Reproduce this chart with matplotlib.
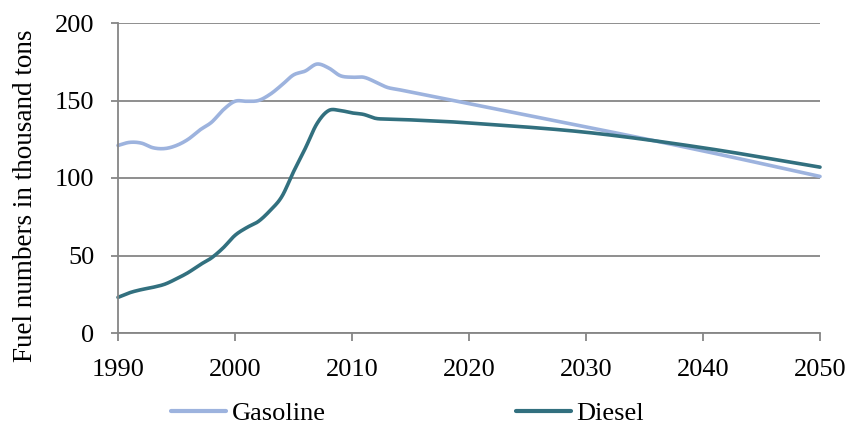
import numpy as np
import matplotlib
matplotlib.use("Agg")
import matplotlib.pyplot as plt

years_gas = [1990, 1991, 1992, 1993, 1994, 1995, 1996, 1997, 1998, 1999, 2000, 2001, 2002, 2003, 2004,
             2005, 2006, 2007, 2008, 2009, 2010, 2011, 2012, 2013, 2014, 2015, 2020, 2030, 2040, 2050]
gasoline = [121, 123, 122.5, 119.5, 119, 121, 125, 131, 136, 144, 149.5, 149.5, 150, 154, 160,
            166.5, 169, 173.5, 171, 166, 165, 165, 162, 158.5, 157, 155.5, 148, 133, 117.5, 101]
years_dsl = [1990, 1991, 1992, 1993, 1994, 1995, 1996, 1997, 1998, 1999, 2000, 2001, 2002, 2003, 2004,
             2005, 2006, 2007, 2008, 2009, 2010, 2011, 2012, 2013, 2015, 2020, 2030, 2040, 2050]
diesel = [23, 26, 28, 29.5, 31.5, 35, 39, 44, 48.5, 55, 63, 68, 72, 79, 88,
          104, 119, 135, 143.5, 143.5, 142, 141, 138.5, 138, 137.5, 135.5, 129.5, 119.5, 107]
series_names = ["Gasoline", "Diesel"]
x_ticks = [1990, 2000, 2010, 2020, 2030, 2040, 2050]
y_ticks = [0, 50, 100, 150, 200]


def smooth(x, y, n=20):
    # Catmull-Rom style smoothing (like Excel "smoothed line")
    x = np.asarray(x, float); y = np.asarray(y, float)
    px = np.concatenate([[2 * x[0] - x[1]], x, [2 * x[-1] - x[-2]]])
    py = np.concatenate([[2 * y[0] - y[1]], y, [2 * y[-1] - y[-2]]])
    xs, ys = [], []
    t = np.linspace(0, 1, n, endpoint=False)
    for i in range(1, len(px) - 2):
        p0, p1, p2, p3 = px[i - 1], px[i], px[i + 1], px[i + 2]
        q0, q1, q2, q3 = py[i - 1], py[i], py[i + 1], py[i + 2]
        s = 1 / 6
        cx1 = p1 + (p2 - p0) * s; cx2 = p2 - (p3 - p1) * s
        cy1 = q1 + (q2 - q0) * s; cy2 = q2 - (q3 - q1) * s
        bx = (1 - t) ** 3 * p1 + 3 * (1 - t) ** 2 * t * cx1 + 3 * (1 - t) * t ** 2 * cx2 + t ** 3 * p2
        by = (1 - t) ** 3 * q1 + 3 * (1 - t) ** 2 * t * cy1 + 3 * (1 - t) * t ** 2 * cy2 + t ** 3 * q2
        xs.extend(bx); ys.extend(by)
    xs.append(x[-1]); ys.append(y[-1])
    return np.array(xs), np.array(ys)


plt.rcParams['font.family'] = ['Liberation Serif', 'DejaVu Serif']
FS = 19
fig = plt.figure(figsize=(8.46, 4.24), dpi=100)
ax = fig.add_axes([118 / 846, (424 - 333) / 424, (820 - 118) / 846, (333 - 23) / 424])

gx, gy = smooth(years_gas, gasoline)
dx, dy = smooth(years_dsl, diesel)
ax.plot(gx, gy, color="#9DB3DE", lw=2.6, label=series_names[0], solid_capstyle='round', clip_on=False)
ax.plot(dx, dy, color="#32707F", lw=2.6, label=series_names[1], solid_capstyle='round', clip_on=False)

ax.set_xlim(1990, 2050)
ax.set_ylim(0, 200)
ax.set_xticks(x_ticks)
ax.set_yticks(y_ticks)
ax.yaxis.grid(True, color="#868686", lw=1.3)
ax.set_axisbelow(True)
for s in ["top", "right"]:
    ax.spines[s].set_visible(False)
for s in ["left", "bottom"]:
    ax.spines[s].set_color("#868686")
    ax.spines[s].set_linewidth(1.3)
ax.tick_params(axis='both', colors="#868686", width=1.3, labelsize=FS, labelcolor='black')
ax.tick_params(axis='x', length=6, pad=13)
ax.tick_params(axis='y', length=5, pad=12)
ax.set_ylabel("Fuel numbers in thousand tons", fontsize=19.5)
ax.yaxis.set_label_coords(-0.1144, 0.442)

leg = fig.legend(loc='center left', bbox_to_anchor=(171 / 846, (424 - 413) / 424), ncol=2, frameon=False,
                 fontsize=FS, columnspacing=7.2, handlelength=2.1, handletextpad=0.2,
                 borderpad=0, borderaxespad=0)
for h in leg.legend_handles:
    h.set_linewidth(3.0)
fig.savefig("out.png", dpi=100)
